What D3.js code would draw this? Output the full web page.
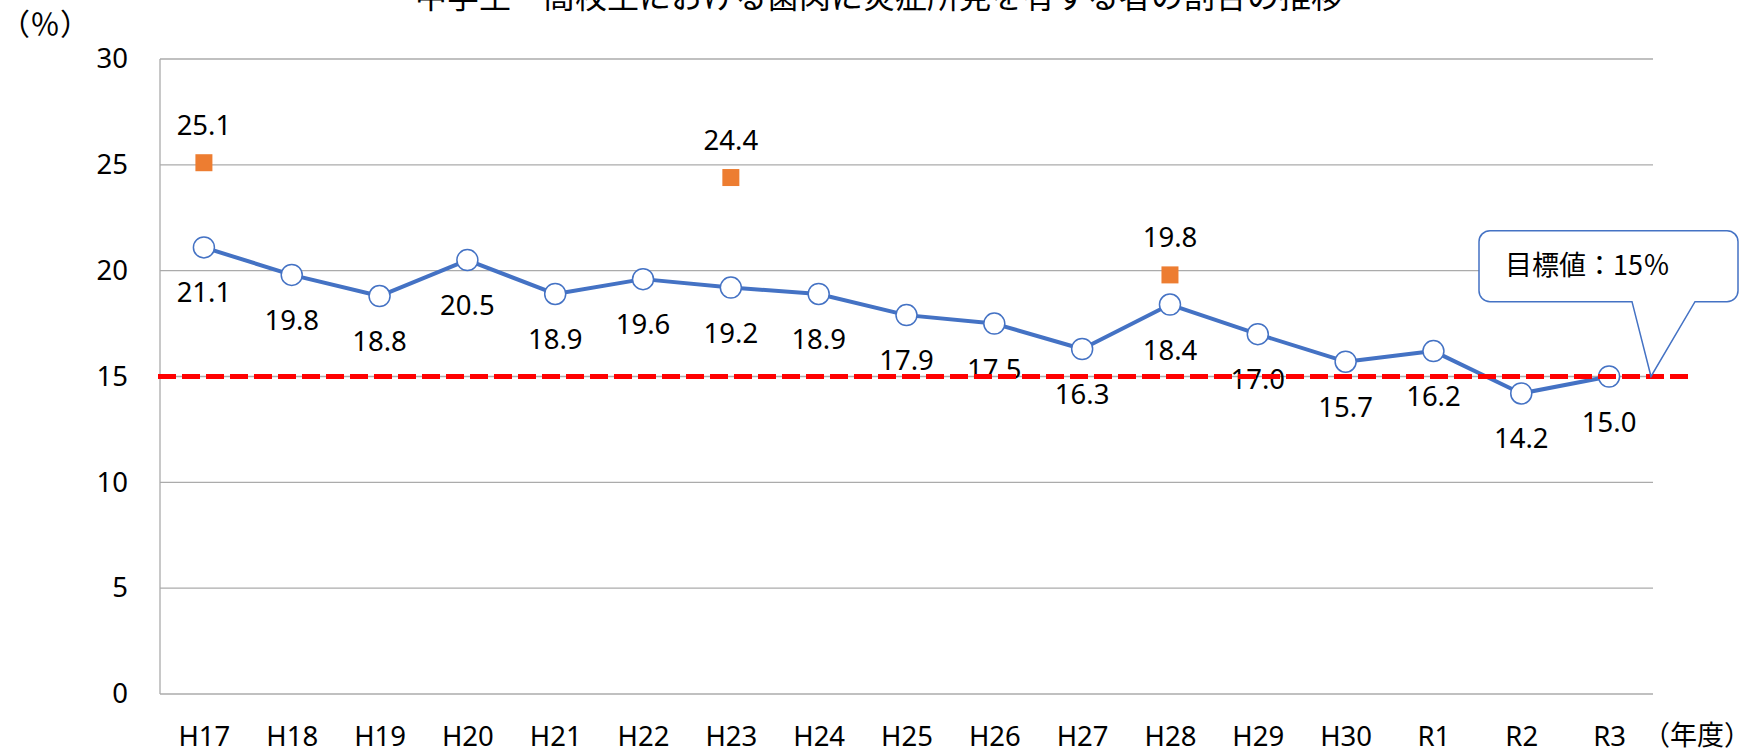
<!DOCTYPE html>
<html>
<head>
<meta charset="utf-8">
<script src="https://cdn.jsdelivr.net/npm/d3@7"></script>
<style>
  body { margin: 0; background: #fff; }
  text { font-family: "Noto Sans", "Noto Sans CJK JP", sans-serif; fill: #000; }
</style>
</head>
<body>
<div id="chart"></div>
<script>
// data
const categories = ["H17", "H18", "H19", "H20", "H21", "H22", "H23", "H24", "H25",
                    "H26", "H27", "H28", "H29", "H30", "R1", "R2", "R3"];
const rateValues = [21.1, 19.8, 18.8, 20.5, 18.9, 19.6, 19.2, 18.9, 17.9,
                    17.5, 16.3, 18.4, 17.0, 15.7, 16.2, 14.2, 15.0];
const otherValues = [25.1, null, null, null, null, null, 24.4, null, null,
                     null, null, 19.8, null, null, null, null, null];
const yTicks = [0, 5, 10, 15, 20, 25, 30];
const targetValue = 15;
const titleText = "中学生・高校生における歯肉に炎症所見を有する者の割合の推移";
const targetLabel = "目標値：15％";

const W = 1755, H = 753;
const margin = { top: 59, right: 102, bottom: 59, left: 160 };
const width = W - margin.left - margin.right;
const height = H - margin.top - margin.bottom;
const fs = "27.5px";

const svg = d3.select("#chart").append("svg")
    .attr("width", W)
    .attr("height", H);

const g = svg.append("g")
    .attr("transform", `translate(${margin.left},${margin.top})`);

const x = d3.scalePoint()
    .domain(categories)
    .range([0, width])
    .padding(0.5);

const y = d3.scaleLinear()
    .domain([0, 30])
    .range([height, 0]);

// gridlines
g.selectAll(".grid")
    .data(yTicks)
    .enter().append("line")
    .attr("x1", 0)
    .attr("x2", width)
    .attr("y1", d => y(d))
    .attr("y2", d => y(d))
    .attr("stroke", "#ababab")
    .attr("stroke-width", 1.3);

// left axis line
g.append("line")
    .attr("x1", 0).attr("x2", 0)
    .attr("y1", y(30)).attr("y2", y(0))
    .attr("stroke", "#ababab")
    .attr("stroke-width", 1.3);

// y axis labels
const yAxis = g.append("g")
    .call(d3.axisLeft(y).tickValues(yTicks).tickSize(0).tickPadding(32));
yAxis.select(".domain").remove();
yAxis.selectAll("text")
    .style("font-size", fs)
    .style("font-family", "'Noto Sans', sans-serif")
    .attr("fill", "#000");

// x axis labels
const xAxis = g.append("g")
    .attr("transform", `translate(0,${height})`)
    .call(d3.axisBottom(x).tickSize(0).tickPadding(0));
xAxis.select(".domain").remove();
xAxis.selectAll("text")
    .attr("dy", null)
    .attr("y", 52)
    .style("font-size", fs)
    .style("font-family", "'Noto Sans', sans-serif")
    .attr("fill", "#000");

// orange points
const others = categories.map((c, i) => ({ cat: c, v: otherValues[i] })).filter(d => d.v != null);
g.selectAll(".sq")
    .data(others)
    .enter().append("rect")
    .attr("x", d => x(d.cat) - 8.5)
    .attr("y", d => y(d.v) - 8.5)
    .attr("width", 17)
    .attr("height", 17)
    .attr("fill", "#ED7D31");

g.selectAll(".sqlabel")
    .data(others)
    .enter().append("text")
    .attr("x", d => x(d.cat))
    .attr("y", d => y(d.v) - 28)
    .attr("text-anchor", "middle")
    .style("font-size", fs)
    .text(d => d.v.toFixed(1));

// main series
const rates = categories.map((c, i) => ({ cat: c, v: rateValues[i] }));

const line = d3.line()
    .x(d => x(d.cat))
    .y(d => y(d.v));

g.append("path")
    .datum(rates)
    .attr("fill", "none")
    .attr("stroke", "#4472C4")
    .attr("stroke-width", 4)
    .attr("stroke-linejoin", "round")
    .attr("d", line);

g.selectAll(".pt")
    .data(rates)
    .enter().append("circle")
    .attr("cx", d => x(d.cat))
    .attr("cy", d => y(d.v))
    .attr("r", 10.5)
    .attr("fill", "#fff")
    .attr("stroke", "#4472C4")
    .attr("stroke-width", 1.5);

g.selectAll(".ptlabel")
    .data(rates)
    .enter().append("text")
    .attr("x", d => x(d.cat))
    .attr("y", d => y(d.v) + 55)
    .attr("text-anchor", "middle")
    .style("font-size", fs)
    .text(d => d.v.toFixed(1));

// target line (runs a little past the plot area)
g.append("line")
    .attr("x1", -2)
    .attr("x2", width + 37)
    .attr("y1", y(targetValue))
    .attr("y2", y(targetValue))
    .attr("stroke", "#FF0000")
    .attr("stroke-width", 5)
    .attr("stroke-dasharray", "18,6");

// callout
const bx0 = width - 174, bx1 = width + 85, by0 = y(20) - 40, by1 = y(20) + 31, r = 11;
const tipX = width - 2, tipY = y(targetValue);
const p = d3.path();
p.moveTo(bx0 + r, by0);
p.lineTo(bx1 - r, by0);
p.arcTo(bx1, by0, bx1, by0 + r, r);
p.lineTo(bx1, by1 - r);
p.arcTo(bx1, by1, bx1 - r, by1, r);
p.lineTo(width + 42, by1);
p.lineTo(tipX, tipY);
p.lineTo(width - 21, by1);
p.lineTo(bx0 + r, by1);
p.arcTo(bx0, by1, bx0, by1 - r, r);
p.lineTo(bx0, by0 + r);
p.arcTo(bx0, by0, bx0 + r, by0, r);
p.closePath();

g.append("path")
    .attr("d", p.toString())
    .attr("fill", "#fff")
    .attr("stroke", "#4472C4")
    .attr("stroke-width", 1.5);

g.append("text")
    .attr("x", bx0 + 26)
    .attr("y", by0 + 44)
    .style("font-size", "27px")
    .style("font-family", "'Noto Sans CJK JP', sans-serif")
    .text(targetLabel);

// title (cut off at the top in the original)
svg.append("text")
    .attr("x", 879)
    .attr("y", 8)
    .attr("text-anchor", "middle")
    .style("font-size", "32px")
    .style("font-family", "'Noto Sans CJK JP', sans-serif")
    .text(titleText);

// unit labels
svg.append("text")
    .attr("x", 0)
    .attr("y", 35)
    .style("font-size", "30px")
    .style("font-family", "'Noto Sans CJK JP', sans-serif")
    .text("（％）");

svg.append("text")
    .attr("x", margin.left + width - 10)
    .attr("y", 745)
    .style("font-size", "27px")
    .style("font-family", "'Noto Sans CJK JP', sans-serif")
    .text("（年度）");
</script>
</body>
</html>
